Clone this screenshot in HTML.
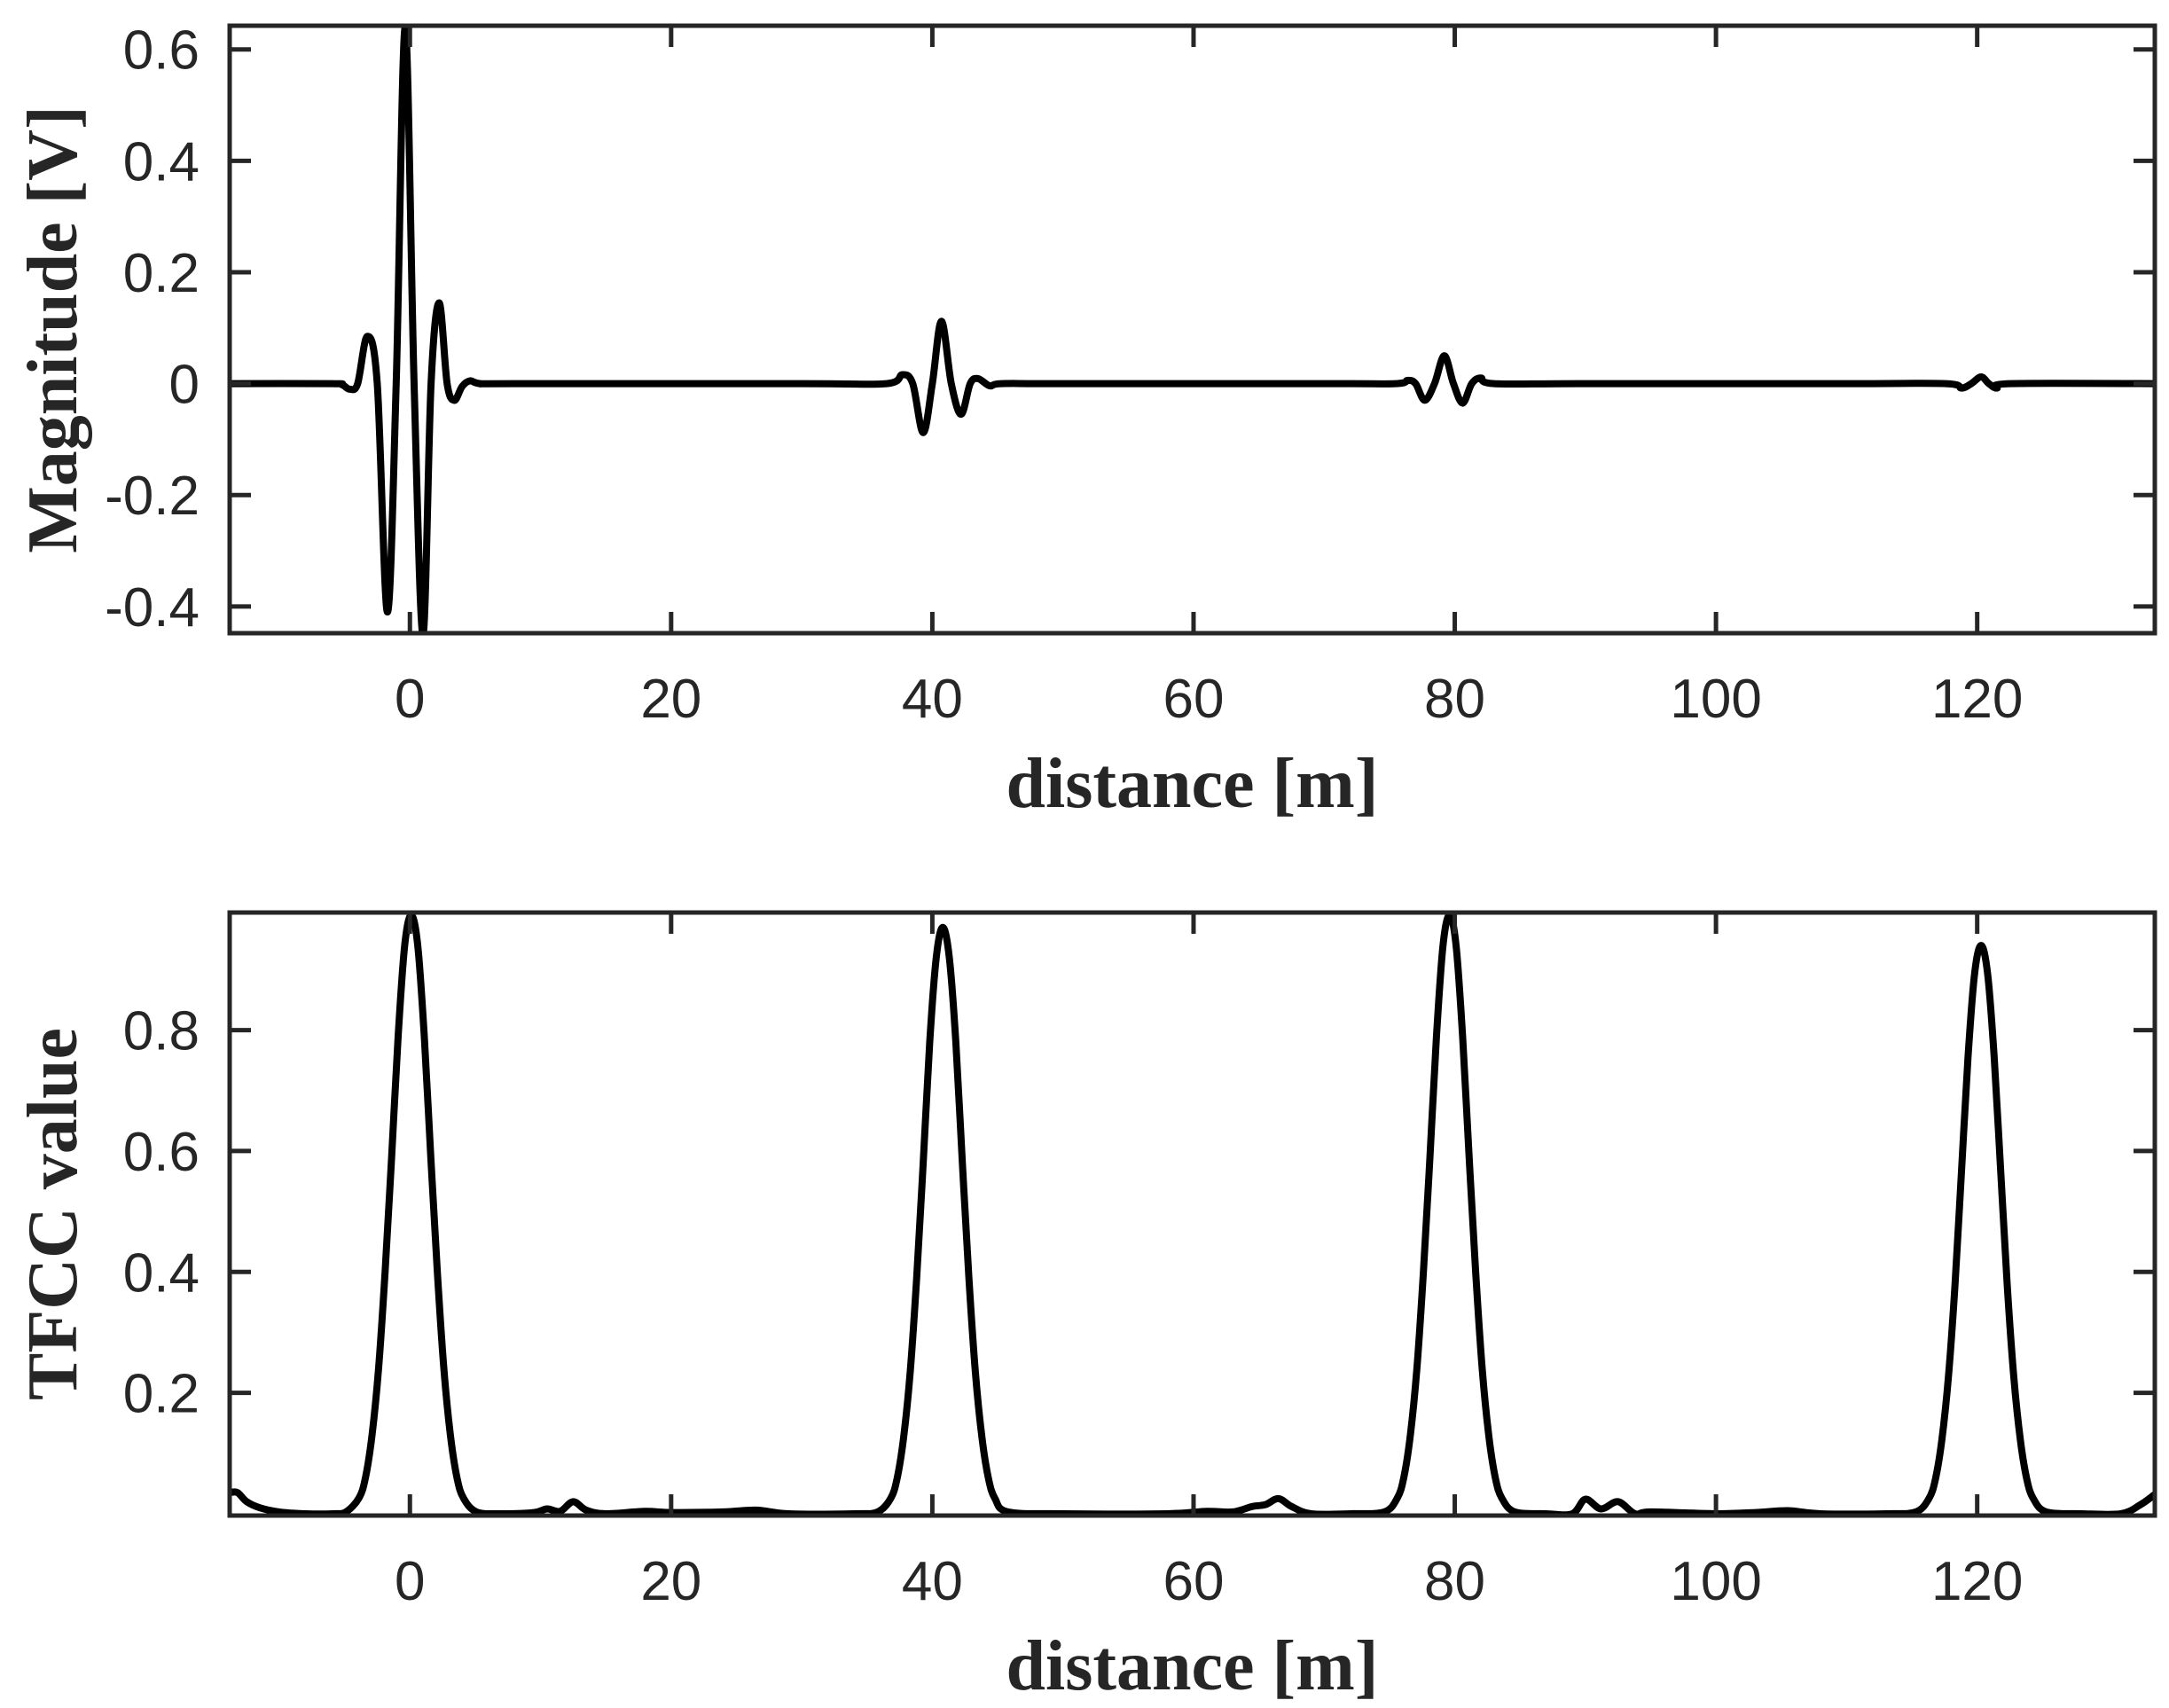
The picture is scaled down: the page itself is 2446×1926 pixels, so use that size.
<!DOCTYPE html>
<html><head><meta charset="utf-8"><style>
html,body{margin:0;padding:0;background:#fff;}
svg{display:block;}
.tick{font-family:"Liberation Sans",sans-serif;font-size:62px;fill:#262626;}
.alab{font-family:"Liberation Serif",serif;font-size:80px;font-weight:bold;fill:#262626;}
</style></head>
<body>
<svg id="fig" width="2446" height="1926" viewBox="0 0 2446 1926" xmlns="http://www.w3.org/2000/svg">
  <defs>
    <clipPath id="clipTop"><rect x="259" y="29" width="2171" height="685"/></clipPath>
    <clipPath id="clipBot"><rect x="259" y="1029" width="2171" height="680"/></clipPath>
  </defs>
  <g id="top"></g>
  <g id="bot"></g>
</svg>
<script>
// ---- shared x axis ----
const xTicks = [0, 20, 40, 60, 80, 100, 120];
const xLim = [-13.8, 133.6];

// ---- top chart data (distance m, magnitude V) ----
const topX = [-13.8, -6, -5.2, -4.6, -4.0, -3.26, -2.5, -1.72, -1.05, -0.36, 0.32, 1.0, 1.62, 2.24, 2.85, 3.4, 4.0, 4.6, 5.4, 8,
  30, 36.5, 37.7, 38.5, 39.3, 40.0, 40.7, 41.45, 42.2, 42.9, 43.5, 44.4, 45.3, 50,
  70, 75.5, 76.4, 77.0, 77.7, 78.45, 79.2, 79.9, 80.6, 81.3, 82.0, 83.0, 90,
  110, 117.6, 118.8, 119.55, 120.3, 120.9, 121.5, 122.5, 133.6];
const topY = [0, 0, -0.002, -0.01, 0.0, 0.085, 0.0, -0.41, 0.0, 0.64, 0.0, -0.45, 0.0, 0.145, 0.0, -0.03, -0.005, 0.005, 0, 0,
  0, 0, 0.016, 0.0, -0.088, 0.0, 0.112, 0.0, -0.055, 0.0, 0.009, -0.004, 0, 0,
  0, 0, 0.006, 0.0, -0.03, 0.0, 0.05, 0.0, -0.035, 0.0, 0.01, 0, 0,
  0, 0, -0.008, 0.0, 0.012, 0.0, -0.008, 0, 0];
const topYTicks = [0.6, 0.4, 0.2, 0, -0.2, -0.4];
const topYTickLabels = ["0.6", "0.4", "0.2", "0", "-0.2", "-0.4"];
const topYLim = [-0.448, 0.6425];

// ---- bottom chart data (distance m, TFCC value) ----
const botX = [-13.8, -13.2, -12.5, -11.5, -10, -8, -5.9,
  -4.9, -3.9, -3.4, -2.9, -2.4, -1.9, -1.4, -0.9, -0.4, 0.1, 0.6, 1.1, 1.6, 2.1, 2.6, 3.1, 3.6, 4.1, 5.1,
  7, 9.5, 10.5, 11.5, 12.5, 13.5, 15, 18, 20, 24, 26.5, 29, 34,
  35.8, 36.8, 37.3, 37.8, 38.3, 38.8, 39.3, 39.8, 40.3, 40.8, 41.3, 41.8, 42.3, 42.8, 43.3, 43.8, 44.3, 44.8, 45.8,
  50, 58, 61, 63, 64.5, 65.5, 66.5, 67.5, 69, 72,
  74.6, 75.6, 76.1, 76.6, 77.1, 77.6, 78.1, 78.6, 79.1, 79.6, 80.1, 80.6, 81.1, 81.6, 82.1, 82.6, 83.1, 83.6, 84.6,
  87, 89, 90, 91.2, 92.5, 93.8, 95, 100, 103, 105.5, 108, 113,
  115.3, 116.3, 116.8, 117.3, 117.8, 118.3, 118.8, 119.3, 119.8, 120.3, 120.8, 121.3, 121.8, 122.3, 122.8, 123.3, 123.8, 124.3, 125.3,
  128, 131, 132.5, 133.6];
const botY = [0.035, 0.035, 0.02, 0.01, 0.003, 0.0, 0.0,
  0.003, 0.026, 0.06, 0.13, 0.24, 0.4, 0.59, 0.79, 0.94, 0.99, 0.94, 0.79, 0.59, 0.4, 0.24, 0.13, 0.06, 0.026, 0.003,
  0.0, 0.002, 0.008, 0.004, 0.02, 0.006, 0.0, 0.004, 0.002, 0.003, 0.006, 0.0, 0.0,
  0.003, 0.025, 0.058, 0.126, 0.233, 0.39, 0.58, 0.78, 0.92, 0.97, 0.92, 0.78, 0.58, 0.39, 0.233, 0.126, 0.058, 0.025, 0.003,
  0.0, 0.0, 0.004, 0.003, 0.012, 0.015, 0.025, 0.012, 0.0, 0.0,
  0.003, 0.026, 0.06, 0.13, 0.24, 0.4, 0.59, 0.79, 0.94, 0.99, 0.94, 0.79, 0.59, 0.4, 0.24, 0.13, 0.06, 0.026, 0.003,
  0.0, 0.0, 0.024, 0.008, 0.02, 0.0, 0.003, 0.0, 0.002, 0.005, 0.0, 0.0,
  0.003, 0.025, 0.057, 0.123, 0.227, 0.378, 0.567, 0.756, 0.893, 0.94, 0.893, 0.756, 0.567, 0.378, 0.227, 0.123, 0.057, 0.025, 0.003,
  0.0, 0.0, 0.015, 0.032];
const botYTicks = [0.8, 0.6, 0.4, 0.2];
const botYTickLabels = ["0.8", "0.6", "0.4", "0.2"];
const botYLim = [-0.003, 0.9945];

const NS = "http://www.w3.org/2000/svg";
function mk(tag, attrs, parent) {
  const e = document.createElementNS(NS, tag);
  for (const k in attrs) e.setAttribute(k, attrs[k]);
  parent.appendChild(e);
  return e;
}
function smoothPath(pts) {
  let d = "M" + pts[0][0].toFixed(2) + "," + pts[0][1].toFixed(2);
  for (let i = 0; i < pts.length - 1; i++) {
    const p0 = pts[Math.max(0, i - 1)], p1 = pts[i], p2 = pts[i + 1], p3 = pts[Math.min(pts.length - 1, i + 2)];
    const c1x = p1[0] + (p2[0] - p0[0]) / 6, c1y = p1[1] + (p2[1] - p0[1]) / 6;
    const c2x = p2[0] - (p3[0] - p1[0]) / 6, c2y = p2[1] - (p3[1] - p1[1]) / 6;
    d += " C" + c1x.toFixed(2) + "," + c1y.toFixed(2) + " " + c2x.toFixed(2) + "," + c2y.toFixed(2) + " " + p2[0].toFixed(2) + "," + p2[1].toFixed(2);
  }
  return d;
}

function drawPanel(g, box, yLim, yTicks, yTickLabels, xs, ys, clipId, yTitle, prefix) {
  const L = box.x, T = box.y, W = box.w, H = box.h;
  const sx = v => L + (v - xLim[0]) / (xLim[1] - xLim[0]) * W;
  const sy = v => T + H - (v - yLim[0]) / (yLim[1] - yLim[0]) * H;
  const col = "#262626", tl = 24;
  const pts = xs.map((x, i) => [sx(x), sy(ys[i])]);
  const line = mk("path", {d: smoothPath(pts), fill: "none", stroke: "#000", "stroke-width": 8, "stroke-linejoin": "round", "stroke-linecap": "round", "clip-path": "url(#" + clipId + ")"}, g);
  
  
  xTicks.forEach(t => {
    const x = sx(t);
    const a = mk("line", {x1: x, y1: T + H, x2: x, y2: T + H - tl, stroke: col, "stroke-width": 5}, g);
    
    
    const b = mk("line", {x1: x, y1: T, x2: x, y2: T + tl, stroke: col, "stroke-width": 5}, g);
    
    
    const tx = mk("text", {x: x, y: T + H + 95, "text-anchor": "middle", class: "tick"}, g);
    tx.textContent = String(t);
    
    
  });
  yTicks.forEach((t, i) => {
    const y = sy(t);
    const a = mk("line", {x1: L, y1: y, x2: L + tl, y2: y, stroke: col, "stroke-width": 5}, g);
    
    
    const b = mk("line", {x1: L + W, y1: y, x2: L + W - tl, y2: y, stroke: col, "stroke-width": 5}, g);
    
    
    const tx = mk("text", {x: L - 34, y: y + 22, "text-anchor": "end", class: "tick"}, g);
    tx.textContent = yTickLabels[i];
    
    
  });
  const r = mk("rect", {x: L, y: T, width: W, height: H, fill: "none", stroke: col, "stroke-width": 5}, g);
  
  
  const xt = mk("text", {x: L + W / 2, y: T + H + 196, "text-anchor": "middle", class: "alab"}, g);
  xt.textContent = "distance [m]";
  
  
  const cy = T + H / 2;
  const yt = mk("text", {x: 0, y: 0, "text-anchor": "middle", class: "alab", transform: "translate(86," + cy + ") rotate(-90)"}, g);
  yt.textContent = yTitle;
  
  
}

drawPanel(document.getElementById("top"), {x: 259, y: 29, w: 2171, h: 685}, topYLim, topYTicks, topYTickLabels, topX, topY, "clipTop", "Magnitude [V]", "signal");
drawPanel(document.getElementById("bot"), {x: 259, y: 1029, w: 2171, h: 680}, botYLim, botYTicks, botYTickLabels, botX, botY, "clipBot", "TFCC value", "tfcc");
</script>
</body></html>
